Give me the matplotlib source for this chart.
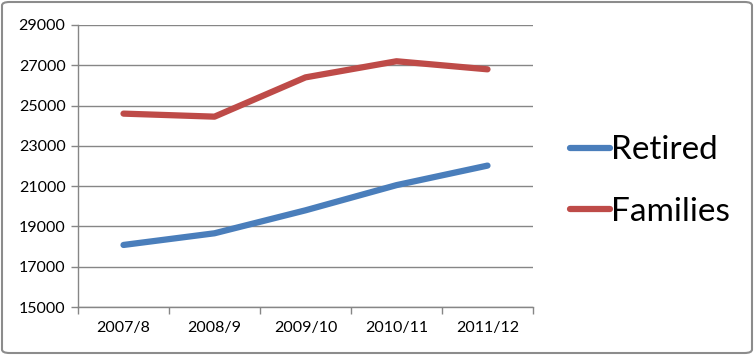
import numpy as np
import matplotlib.pyplot as plt
from matplotlib.patches import FancyBboxPatch
from matplotlib.lines import Line2D

years = ["2007/8", "2008/9", "2009/10", "2010/11", "2011/12"]
retired = [18080, 18660, 19800, 21050, 22020]
families = [24600, 24450, 26400, 27200, 26800]

BLUE = "#4a7ebb"
RED = "#be4b48"
GRID = "#868686"

plt.rcParams["font.family"] = ["Lato", "DejaVu Sans"]

fig = plt.figure(figsize=(7.54, 3.55), dpi=100)
ax = fig.add_axes([78 / 754, 1 - 307 / 355, (533 - 78) / 754, (307 - 25) / 355])

x = np.arange(len(years))
ax.plot(x, retired, color=BLUE, linewidth=4.5, solid_capstyle="round",
        solid_joinstyle="round", label="Retired")
ax.plot(x, families, color=RED, linewidth=4.5, solid_capstyle="round",
        solid_joinstyle="round", label="Families")

ax.set_xlim(-0.5, len(years) - 0.5)
ax.set_ylim(15000, 29000)
ax.set_yticks(np.arange(15000, 29001, 2000))
ax.yaxis.grid(True, color=GRID, linewidth=1)
ax.set_axisbelow(True)

ax.set_xticks(x)
ax.set_xticklabels(years)
ax.set_xticks(np.arange(-0.5, len(years), 1), minor=True)
ax.tick_params(axis="x", which="major", length=0, pad=10, labelsize=11.5)
ax.tick_params(axis="x", which="minor", length=5, color=GRID, width=1)
ax.tick_params(axis="y", length=5, color=GRID, width=1, labelsize=11.5, pad=4)

for side in ("top", "right"):
    ax.spines[side].set_visible(False)
for side in ("left", "bottom"):
    ax.spines[side].set_color(GRID)
    ax.spines[side].set_linewidth(1)

handles = [Line2D([], [], color=BLUE, linewidth=4.5, solid_capstyle="round"),
           Line2D([], [], color=RED, linewidth=4.5, solid_capstyle="round")]
fig.legend(handles, ["Retired", "Families"], loc="center left",
           bbox_to_anchor=(553 / 754, 1 - 181 / 355), frameon=False,
           fontsize=24, handlelength=1.2, handletextpad=0.05,
           labelspacing=0.95, borderpad=0)

border = FancyBboxPatch((2 / 754, 2 / 355), 750 / 754, 351 / 355,
                        boxstyle="round,pad=0,rounding_size=0.01",
                        transform=fig.transFigure, facecolor="none",
                        edgecolor="#8c8c8c", linewidth=1.5)
fig.patches.append(border)

fig.savefig("out.png", dpi=100)
